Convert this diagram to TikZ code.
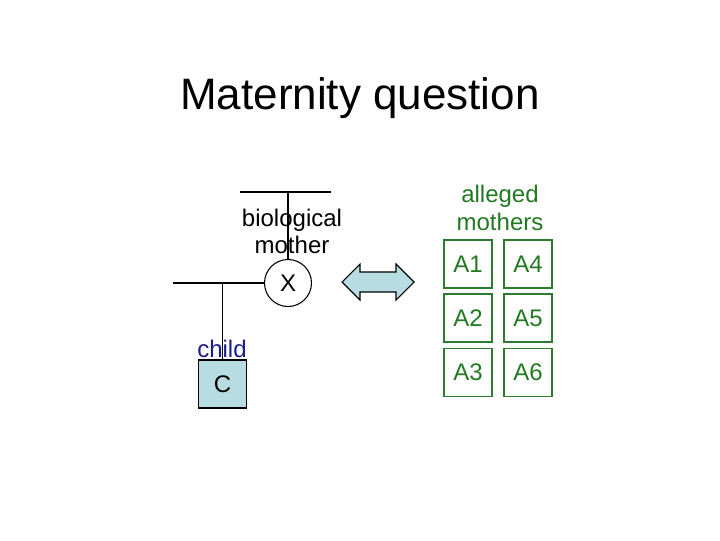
\documentclass[tikz,border=0pt]{standalone}
\usepackage{fontspec}
\setmainfont{Liberation Sans}
\definecolor{lblue}{HTML}{B7DCE1}
\definecolor{dblue}{HTML}{1C1C8C}
\definecolor{tgreen}{HTML}{217A21}
\definecolor{bgreen}{HTML}{2E7A2E}
\begin{document}
\begin{tikzpicture}[x=0.75pt,y=-0.75pt,
  lbl/.style={font=\fontsize{18}{21}\selectfont, inner sep=0pt, anchor=base},
  abox/.style={draw=bgreen, line width=0.8pt, minimum size=36pt, inner sep=0pt, text=tgreen, font=\fontsize{18}{21}\selectfont},
  ln/.style={line width=0.8pt}]
\useasboundingbox (0,0) rectangle (720,540);
\node[lbl, font=\fontsize{33}{38}\selectfont] (title) at (360,109) {Maternity question};
% pedigree
\coordinate (tl) at (240,192);
\coordinate (tr) at (331,192);
\coordinate (tm) at (288,192);
\coordinate (ll) at (173,283);
\coordinate (lm) at (222.5,283);
\draw[ln] (tl) -- (tr);
\node[lbl] (bio) at (292,226) {biological};
\node[lbl] (moth) at (292,253) {mother};
\node[draw, ln, circle, fill=white, minimum size=35.25pt, inner sep=0pt, font=\fontsize{18}{21}\selectfont] (X) at (288,283) {X};
\draw[ln] (tm) -- (X.north);
\draw[ln] (ll) -- (X.west);
\node[draw, ln, fill=lblue, minimum size=36pt, inner sep=0pt, font=\fontsize{18}{21}\selectfont] (C) at (222.5,384) {C};
\draw[ln] (lm) -- (C.north);
\node[lbl, text=dblue] (child) at (222,357) {child};
% double arrow
\draw[ln, fill=lblue] (342,282) -- (360,264) -- (360,272) -- (396,272) -- (396,264) -- (414,282) -- (396,300) -- (396,292) -- (360,292) -- (360,300) -- cycle;
% alleged mothers
\node[lbl, text=tgreen] (al) at (500,202) {alleged};
\node[lbl, text=tgreen] (mo) at (500,230) {mothers};
\node[abox] (A1) at (468,264) {A1};
\node[abox] (A4) at (528,264) {A4};
\node[abox] (A2) at (468,318) {A2};
\node[abox] (A5) at (528,318) {A5};
\node[abox] (A3) at (468,372.5) {A3};
\node[abox] (A6) at (528,372.5) {A6};
\end{tikzpicture}
\end{document}
